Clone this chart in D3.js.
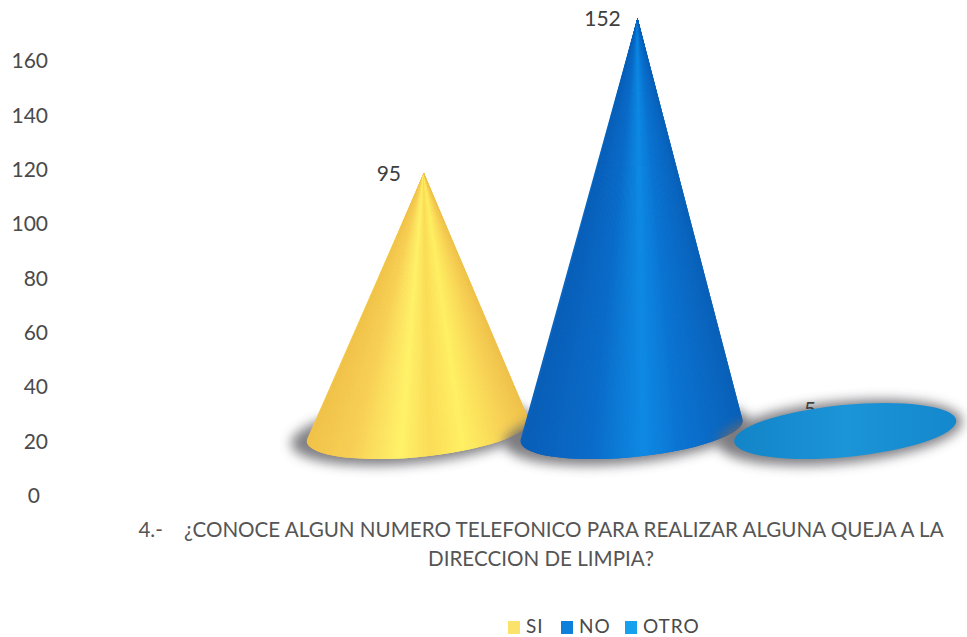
<!DOCTYPE html>
<html>
<head>
<meta charset="utf-8">
<script src="https://cdn.jsdelivr.net/npm/d3@7"></script>
<style>
  html, body { margin: 0; padding: 0; background: #fff; }
  svg { display: block; }
  text { font-family: Lato, "Open Sans", sans-serif; }
</style>
</head>
<body>
<div id="chart"></div>
<script>
const categories = ["SI", "NO", "OTRO"];
const values = [95, 152, 5];
const tickValues = [0, 20, 40, 60, 80, 100, 120, 140, 160];
const titleLines = [
    "4.-\u00a0\u00a0\u00a0\u00a0¿CONOCE ALGUN NUMERO TELEFONICO PARA REALIZAR ALGUNA QUEJA A LA",
    "DIRECCION DE LIMPIA?"
];
const legendColors = ["#fbe26a", "#0f7fdc", "#16a0ee"];
const coneStops = [
    [[0, "#f0c24a"], [0.2, "#f8d056"], [0.4, "#fff26a"], [0.52, "#fbdc58"], [0.66, "#fff064"], [0.85, "#f8d256"], [1, "#edbf4a"]],
    [[0, "#0a5fb8"], [0.3, "#0b6cc9"], [0.52, "#0f8ae4"], [0.68, "#0c74d2"], [1, "#0a5fb6"]],
    [[0, "#1384c8"], [0.5, "#1c94d8"], [1, "#1488cc"]]
];

const W = 967, H = 637;
const svg = d3.select("#chart").append("svg").attr("width", W).attr("height", H);
const defs = svg.append("defs");

defs.append("filter").attr("id", "blur")
    .attr("x", "-20%").attr("y", "-50%").attr("width", "140%").attr("height", "200%")
    .append("feGaussianBlur").attr("stdDeviation", 6);

coneStops.forEach((stops, i) => {
    defs.append("linearGradient").attr("id", `cone-${i}`)
        .selectAll("stop").data(stops).join("stop")
        .attr("offset", d => d[0]).attr("stop-color", d => d[1]);
});

const y = d3.scaleLinear().domain([0, 160]).range([495, 60]);
const x = d3.scaleBand().domain(categories).range([311, 952]).padding(0);

// the 3d floor sits above the axis zero, and the apex leans a bit right
const floorLift = 64;
const apexLean = 6;
const rx = x.bandwidth() * 0.522;
const ry = 26;
const tilt = -5.5 * Math.PI / 180;
const floorY = y(0) - floorLift;

const yAxis = svg.append("g")
    .attr("transform", "translate(48,1)")
    .call(d3.axisLeft(y).tickValues(tickValues).tickSize(0).tickPadding(0));
yAxis.select(".domain").remove();
yAxis.selectAll("text")
    .style("font-family", "Lato, sans-serif")
    .style("font-size", "21px")
    .attr("fill", "#4a4a4a")
    .attr("dx", d => d === 0 ? -8 : 0);

function rotate(px, py, a) {
    return [px * Math.cos(a) - py * Math.sin(a), px * Math.sin(a) + py * Math.cos(a)];
}

function conePath(cx, cy, ax, ay) {
    const deg = tilt * 180 / Math.PI;
    const [lx, ly] = rotate(ax - cx, ay - cy, -tilt);
    const u = lx / rx, v = ly / ry;
    const d = Math.hypot(u, v);
    const g = (p, q) => { const r = rotate(p, q, tilt); return [cx + r[0], cy + r[1]]; };
    if (d <= 1) {
        const a = g(-rx, 0), b = g(rx, 0);
        return `M${a}A${rx},${ry},${deg},1,1,${b}A${rx},${ry},${deg},1,1,${a}Z`;
    }
    const phi = Math.atan2(v, u), alpha = Math.acos(1 / d);
    const t1 = g(rx * Math.cos(phi - alpha), ry * Math.sin(phi - alpha));
    const t2 = g(rx * Math.cos(phi + alpha), ry * Math.sin(phi + alpha));
    return `M${t1}L${ax},${ay}L${t2}A${rx},${ry},${deg},1,1,${t1}Z`;
}

const cones = svg.append("g").selectAll("g")
    .data(categories.map((c, i) => ({
        c, i, v: values[i],
        cx: x(c) + x.bandwidth() / 2,
        ax: x(c) + x.bandwidth() / 2 + apexLean,
        ay: y(values[i]) - floorLift
    })))
    .join("g");

// soft shadow under each base
cones.append("ellipse")
    .attr("cx", d => d.cx - 5)
    .attr("cy", floorY + 1)
    .attr("rx", rx + 11)
    .attr("ry", ry + 5)
    .attr("transform", d => `rotate(${tilt * 180 / Math.PI},${d.cx},${floorY})`)
    .attr("fill", "#6a6a70")
    .attr("opacity", 0.85)
    .attr("filter", "url(#blur)");

// low labels end up half hidden behind their base, as in the original
cones.append("text")
    .attr("x", d => d.ax - (d.v < 10 ? 41 : 35))
    .attr("y", d => d.v < 10 ? floorY - ry + 12 : d.ay + 8)
    .attr("text-anchor", "middle")
    .style("font-size", "21px")
    .attr("fill", "#404040")
    .text(d => d.v);

cones.append("clipPath").attr("id", d => `clip-${d.i}`)
    .append("path").attr("d", d => conePath(d.cx, floorY, d.ax, d.ay));

cones.append("path")
    .attr("d", d => conePath(d.cx, floorY, d.ax, d.ay))
    .attr("fill", d => `url(#cone-${d.i})`);

// shading fan: slices run from the apex so the highlight narrows toward the tip
const fanSlices = 80;
cones.filter(d => floorY - d.ay > ry * 2).each(function(d) {
    const shade = d3.scaleLinear()
        .domain(coneStops[d.i].map(s => s[0]))
        .range(coneStops[d.i].map(s => s[1]));
    const farY = floorY + ry + 20;
    const spread = rx * (farY - d.ay) / (floorY - d.ay);
    const fx = d3.scaleLinear().domain([0, 1]).range([d.ax - spread, d.ax + spread]);
    d3.select(this).append("g")
        .attr("clip-path", `url(#clip-${d.i})`)
        .selectAll("path")
        .data(d3.range(fanSlices).map(k => k / fanSlices))
        .join("path")
        .attr("d", t => `M${d.ax},${d.ay}L${fx(t)},${farY}L${fx(t + 1 / fanSlices)},${farY}Z`)
        .attr("fill", t => shade(t))
        .attr("stroke", t => shade(t))
        .attr("stroke-width", 0.6);
});

svg.append("g").selectAll("text")
    .data(titleLines)
    .join("text")
    .attr("x", 541)
    .attr("y", (d, i) => 537 + i * 29)
    .attr("text-anchor", "middle")
    .style("font-size", "20.6px")
    .attr("fill", "#555")
    .text(d => d);

const legendX = d3.scaleOrdinal().domain(categories).range([508, 561, 625]);
const legend = svg.append("g").selectAll("g")
    .data(categories)
    .join("g")
    .attr("transform", d => `translate(${legendX(d)},621)`);
legend.append("rect")
    .attr("width", 12).attr("height", 13)
    .attr("fill", (d, i) => legendColors[i]);
legend.append("text")
    .attr("x", 18).attr("y", 12)
    .style("font-size", "19px")
    .style("letter-spacing", "1px")
    .attr("fill", "#4a4a4a")
    .text(d => d);
</script>
</body>
</html>
